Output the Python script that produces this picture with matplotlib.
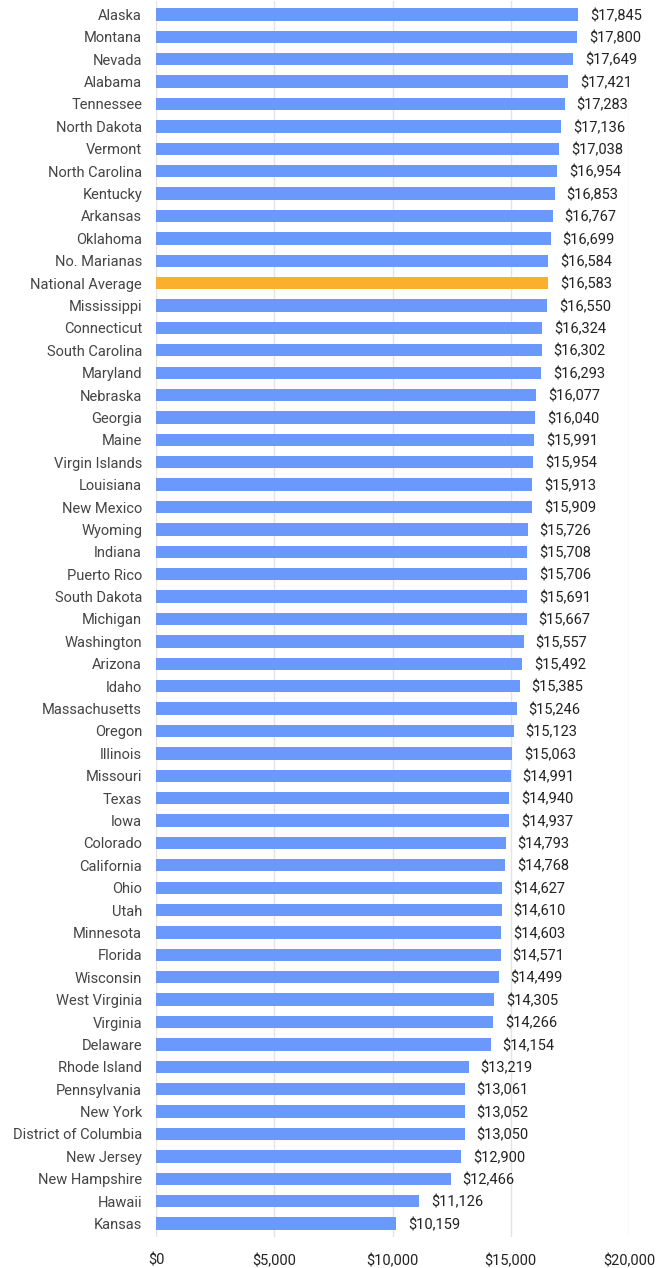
import numpy as np
import matplotlib.pyplot as plt

# Average cost per category, sorted high to low
states = ["Alaska", "Montana", "Nevada", "Alabama", "Tennessee", "North Dakota", "Vermont",
          "North Carolina", "Kentucky", "Arkansas", "Oklahoma", "No. Marianas", "National Average",
          "Mississippi", "Connecticut", "South Carolina", "Maryland", "Nebraska", "Georgia", "Maine",
          "Virgin Islands", "Louisiana", "New Mexico", "Wyoming", "Indiana", "Puerto Rico",
          "South Dakota", "Michigan", "Washington", "Arizona", "Idaho", "Massachusetts", "Oregon",
          "Illinois", "Missouri", "Texas", "Iowa", "Colorado", "California", "Ohio", "Utah",
          "Minnesota", "Florida", "Wisconsin", "West Virginia", "Virginia", "Delaware",
          "Rhode Island", "Pennsylvania", "New York", "District of Columbia", "New Jersey",
          "New Hampshire", "Hawaii", "Kansas"]
values = [17845, 17800, 17649, 17421, 17283, 17136, 17038, 16954, 16853, 16767, 16699, 16584,
          16583, 16550, 16324, 16302, 16293, 16077, 16040, 15991, 15954, 15913, 15909, 15726,
          15708, 15706, 15691, 15667, 15557, 15492, 15385, 15246, 15123, 15063, 14991, 14940,
          14937, 14793, 14768, 14627, 14610, 14603, 14571, 14499, 14305, 14266, 14154, 13219,
          13061, 13052, 13050, 12900, 12466, 11126, 10159]
x_ticks = [0, 5000, 10000, 15000, 20000]
highlight = "National Average"

plt.rcParams['font.family'] = ['Roboto', 'DejaVu Sans']

fig = plt.figure(figsize=(6.63, 12.68), dpi=100)
ax = fig.add_axes([156 / 663, 1 - 1237 / 1268, (629 - 156) / 663, 1236 / 1268])

y = np.arange(len(states))
colors = ['#fbb02d' if s == highlight else '#6b98fb' for s in states]
ax.barh(y, values, height=0.55, color=colors, zorder=3)

for yi, v in zip(y, values):
    ax.annotate(f"${v:,}", (v, yi), xytext=(8.5, -1), textcoords='offset points',
                va='center', ha='left', fontsize=10.5, color='#222222', zorder=4)

ax.set_ylim(len(states) - 0.4, -0.6)
ax.set_xlim(0, 20000)
ax.set_yticks(y)
ax.set_yticklabels(states, fontsize=10.5, color='#444444')
ax.set_xticks(x_ticks)
ax.set_xticklabels([f"${t:,}" for t in x_ticks], fontsize=10.5, color='#222222')
ax.tick_params(axis='both', length=0, pad=10)
ax.tick_params(axis='x', pad=12)
ax.grid(axis='x', color='#e4e4e4', linewidth=1, zorder=0)
for sp in ax.spines.values():
    sp.set_visible(False)

fig.savefig('out.png', dpi=100)
